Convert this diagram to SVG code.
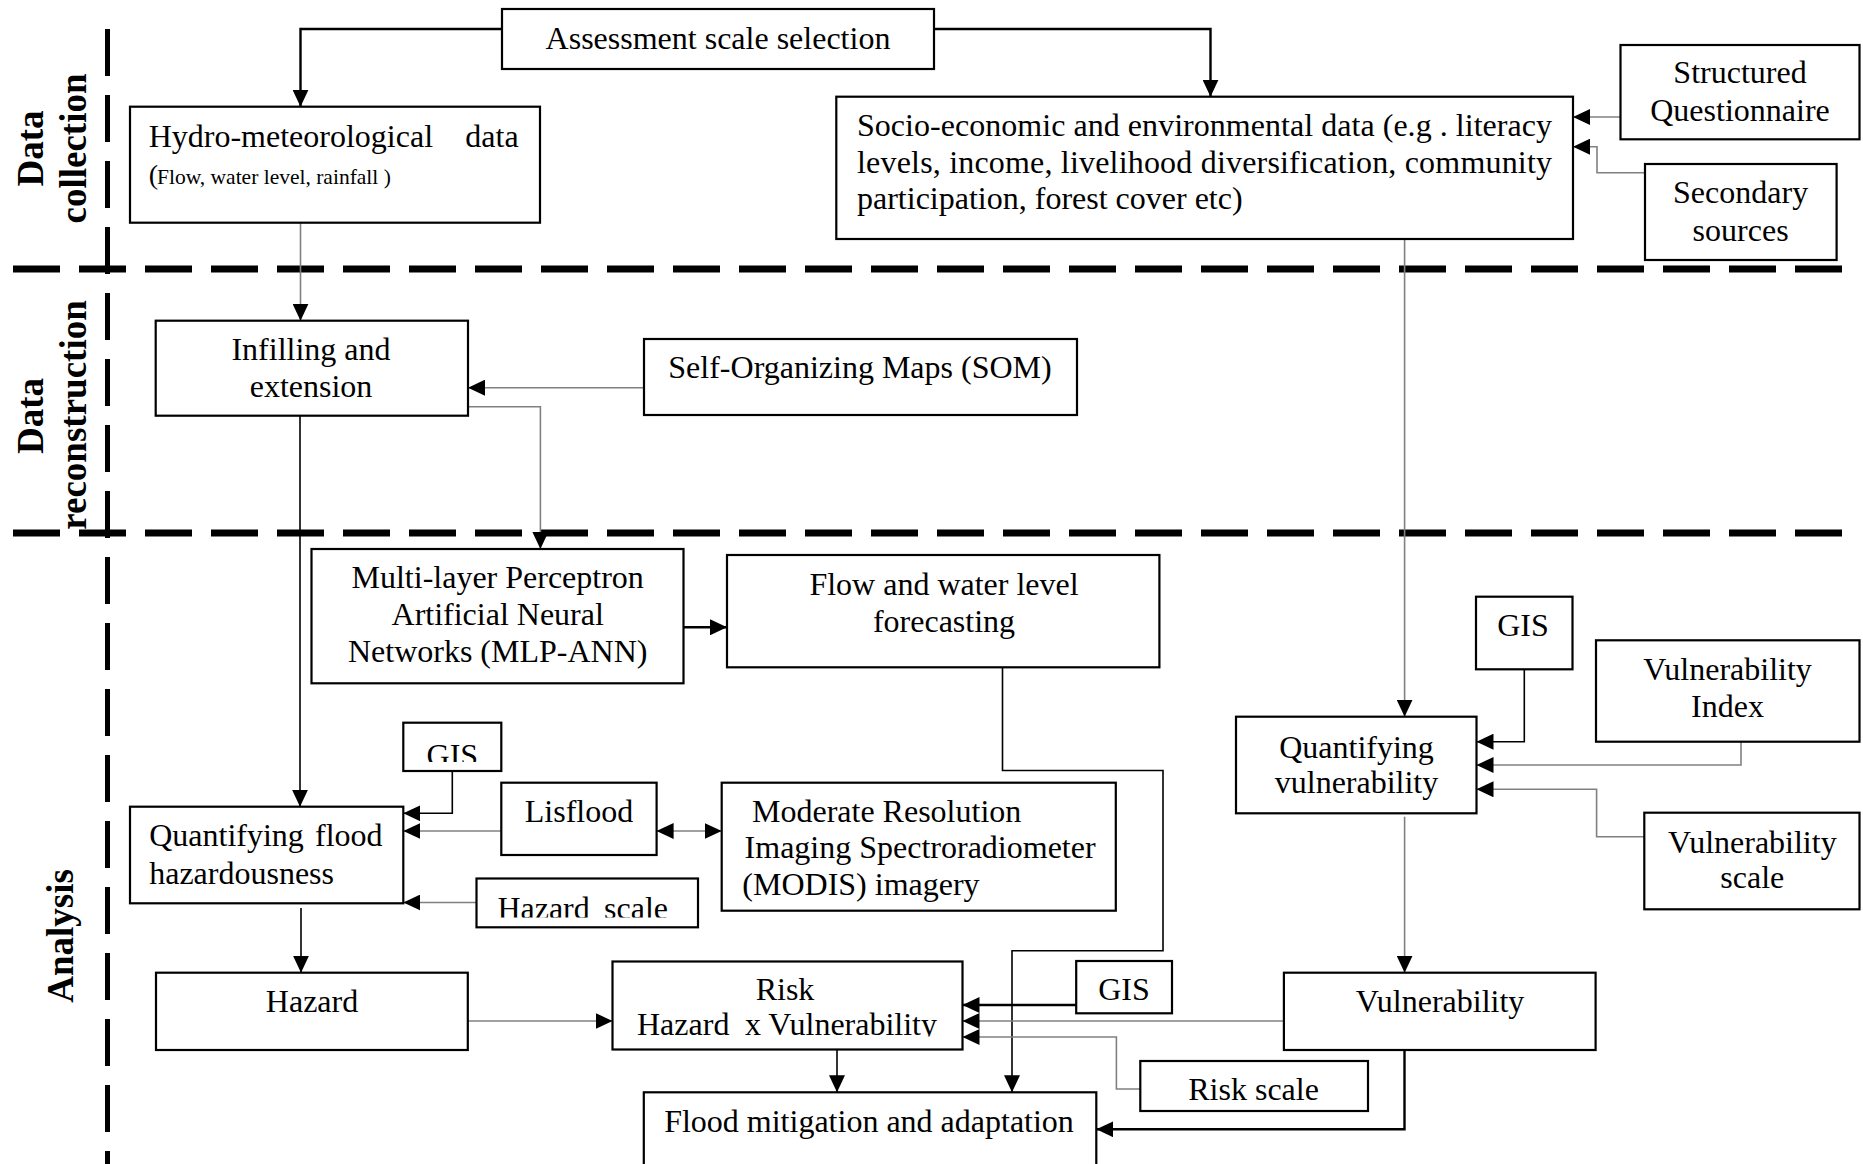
<svg xmlns="http://www.w3.org/2000/svg" width="1863" height="1164" viewBox="0 0 1863 1164">
  <style>
    .box { fill: #fff; stroke: #000; stroke-width: 2.2; }
    .t { font-family: "Liberation Serif", "Times New Roman", serif; font-size: 32px; fill: #000; }
    .m { text-anchor: middle; }
    .e { text-anchor: end; }
    .sec { font-family: "Liberation Serif", "Times New Roman", serif; font-size: 37px; font-weight: bold; fill: #000; text-anchor: middle; }
    .div { stroke: #000; fill: none; stroke-dasharray: 47 19; }
    .k { stroke: #000; stroke-width: 1.6; fill: none; marker-end: url(#ah); }
    .kb { stroke: #000; stroke-width: 2.4; fill: none; marker-end: url(#ah); }
    .g { stroke: #808080; stroke-width: 1.6; fill: none; marker-end: url(#ah); }
  </style>
  <defs>
    <marker id="ah" markerUnits="userSpaceOnUse" markerWidth="17" markerHeight="16" refX="17" refY="8" orient="auto-start-reverse">
      <path d="M0,0 L17,8 L0,16 Z" fill="#000"/>
    </marker>
    <clipPath id="clipGis1"><rect x="403" y="722" width="98" height="40"/></clipPath>
    <clipPath id="clipHazScale"><rect x="476" y="878" width="222" height="39.5"/></clipPath>
    <clipPath id="clipRisk"><rect x="612" y="961" width="350" height="75.5"/></clipPath>
  </defs>

  <rect width="1863" height="1164" fill="#fff"/>

  <!-- phase dividers -->
  <g id="dividers">
    <line class="div" x1="13" y1="269" x2="1842" y2="269" stroke-width="7"/>
    <line class="div" x1="13" y1="533" x2="1842" y2="533" stroke-width="7"/>
    <line class="div" x1="107.5" y1="29" x2="107.5" y2="1164" stroke-width="5"/>
  </g>

  <!-- phase labels -->
  <g id="phase-labels">
    <text class="sec" transform="translate(43,148.5) rotate(-90)">Data</text>
    <text class="sec" transform="translate(86,148.5) rotate(-90)">collection</text>
    <text class="sec" transform="translate(43,416) rotate(-90)">Data</text>
    <text class="sec" transform="translate(86,415) rotate(-90)">reconstruction</text>
    <text class="sec" transform="translate(73,936) rotate(-90)">Analysis</text>
  </g>

  <!-- connectors -->
  <g id="connectors">
    <path class="kb" d="M502,29 H300.5 V106.7"/>
    <path class="kb" d="M934,29 H1210.5 V96.7"/>
    <path class="g" d="M1620.5,117 H1573"/>
    <path class="g" d="M1645,172.7 H1597 V146.7 H1573"/>
    <path class="g" d="M300.5,223 V320.7"/>
    <path class="g" d="M644,387.7 H468"/>
    <path class="g" d="M468,406.7 H540.4 V549"/>
    <path class="k" d="M300,416 V806.7"/>
    <path class="kb" d="M683.5,627.3 H727"/>
    <path class="k" d="M1002.5,667.3 V770.5 H1163 V950.7 H1012 V1092.3"/>
    <path class="k" d="M452.3,771 V813.3 H403.3"/>
    <path class="g" d="M501.3,831 H403.3"/>
    <path class="g" d="M656.6,831 H721.7" marker-start="url(#ah)"/>
    <path class="g" d="M476.5,902.5 H403.3"/>
    <path class="k" d="M301,908 V972.7"/>
    <path class="g" d="M468,1021 H612.5"/>
    <path class="kb" d="M1076.2,1005 H962.5"/>
    <path class="g" d="M1283.9,1021 H962.5"/>
    <path class="g" d="M1140.3,1089 H1116.4 V1037 H962.5"/>
    <path class="k" d="M837,1049.5 V1092.3"/>
    <path class="kb" d="M1404.5,1050 V1129.3 H1096.3"/>
    <path class="g" d="M1404.6,239 V716.7"/>
    <path class="k" d="M1524.3,669.3 V741.7 H1476.5"/>
    <path class="g" d="M1741,741.7 V765 H1476.5"/>
    <path class="g" d="M1644.3,836.7 H1596.6 V789.3 H1476.5"/>
    <path class="g" d="M1404.6,816.7 V972.7"/>
  </g>

  <!-- data collection -->
  <g id="assessment-scale">
    <rect class="box" x="502" y="9" width="432" height="60"/>
    <text class="t m" x="718" y="49.3">Assessment scale selection</text>
  </g>
  <g id="hydro-data">
    <rect class="box" x="130" y="106.7" width="410" height="116"/>
    <text class="t" x="148.7" y="147.3">Hydro-meteorological</text>
    <text class="t e" x="518.6" y="147.3">data</text>
    <text class="t" x="148.7" y="184"><tspan font-size="28">(</tspan><tspan x="157" font-size="21.5">Flow, water level, rainfall )</tspan></text>
  </g>
  <g id="socio-data">
    <rect class="box" x="836.3" y="96.7" width="736.7" height="142.3"/>
    <text class="t" x="857" y="136" textLength="695" lengthAdjust="spacing">Socio-economic and environmental data (e.g . literacy</text>
    <text class="t" x="857" y="172.5" textLength="695" lengthAdjust="spacing">levels, income, livelihood diversification, community</text>
    <text class="t" x="857" y="209">participation, forest cover etc)</text>
  </g>
  <g id="questionnaire">
    <rect class="box" x="1620.5" y="45" width="239" height="94.3"/>
    <text class="t m" x="1740" y="83.3">Structured</text>
    <text class="t m" x="1740" y="120.5">Questionnaire</text>
  </g>
  <g id="secondary-sources">
    <rect class="box" x="1645" y="164" width="191.6" height="96"/>
    <text class="t m" x="1740.6" y="203">Secondary</text>
    <text class="t m" x="1740.6" y="240.5">sources</text>
  </g>

  <!-- data reconstruction -->
  <g id="infilling">
    <rect class="box" x="155.7" y="320.7" width="312.3" height="95"/>
    <text class="t m" x="311" y="360">Infilling and</text>
    <text class="t m" x="311" y="396.7">extension</text>
  </g>
  <g id="som">
    <rect class="box" x="644" y="339" width="433" height="76"/>
    <text class="t m" x="860" y="378.3">Self-Organizing Maps (SOM)</text>
  </g>

  <!-- analysis -->
  <g id="mlp-ann">
    <rect class="box" x="311.5" y="549" width="372" height="134.3"/>
    <text class="t m" x="497.7" y="588">Multi-layer Perceptron</text>
    <text class="t m" x="497.7" y="625">Artificial Neural</text>
    <text class="t m" x="497.7" y="662">Networks (MLP-ANN)</text>
  </g>
  <g id="forecasting">
    <rect class="box" x="727" y="555" width="432.4" height="112.3"/>
    <text class="t m" x="944" y="595">Flow and water level</text>
    <text class="t m" x="944" y="632">forecasting</text>
  </g>
  <g id="gis-hazard">
    <rect class="box" x="403.3" y="722.7" width="98" height="48.3"/>
    <text class="t m" x="452.3" y="766" clip-path="url(#clipGis1)">GIS</text>
  </g>
  <g id="lisflood">
    <rect class="box" x="501.3" y="782.7" width="155.3" height="72.3"/>
    <text class="t m" x="579" y="822">Lisflood</text>
  </g>
  <g id="modis">
    <rect class="box" x="721.7" y="782.7" width="394.1" height="128"/>
    <text class="t" x="752" y="822">Moderate Resolution</text>
    <text class="t" x="744.6" y="858.3">Imaging Spectroradiometer</text>
    <text class="t" x="742.3" y="895">(MODIS) imagery</text>
  </g>
  <g id="flood-hazardousness">
    <rect class="box" x="130" y="806.7" width="273.3" height="96.6"/>
    <text class="t" x="149.2" y="845.5">Quantifying</text>
    <text class="t e" x="382.6" y="845.5">flood</text>
    <text class="t" x="149.2" y="883.5">hazardousness</text>
  </g>
  <g id="hazard-scale">
    <rect class="box" x="476.5" y="878.5" width="221.5" height="48.8"/>
    <g clip-path="url(#clipHazScale)">
      <text class="t" x="497.4" y="919">Hazard</text>
      <text class="t e" x="668" y="919">scale</text>
    </g>
  </g>
  <g id="hazard">
    <rect class="box" x="156" y="972.7" width="311.8" height="77.3"/>
    <text class="t m" x="312" y="1011.7">Hazard</text>
  </g>
  <g id="risk">
    <rect class="box" x="612.5" y="961.5" width="350" height="88"/>
    <text class="t m" x="785" y="1000">Risk</text>
    <g clip-path="url(#clipRisk)">
      <text class="t" x="637" y="1035">Hazard</text>
      <text class="t e" x="937" y="1035">x Vulnerability</text>
    </g>
  </g>
  <g id="gis-risk">
    <rect class="box" x="1076.2" y="961" width="95.8" height="52.3"/>
    <text class="t m" x="1124" y="1000">GIS</text>
  </g>
  <g id="vulnerability">
    <rect class="box" x="1283.9" y="972.7" width="311.7" height="77.3"/>
    <text class="t m" x="1440" y="1011.7">Vulnerability</text>
  </g>
  <g id="risk-scale">
    <rect class="box" x="1140.3" y="1061" width="227.7" height="50"/>
    <text class="t m" x="1253.6" y="1100">Risk scale</text>
  </g>
  <g id="mitigation">
    <rect class="box" x="643.8" y="1092.3" width="452.5" height="100"/>
    <text class="t m" x="869" y="1131.7">Flood mitigation and adaptation</text>
  </g>
  <g id="gis-vulnerability">
    <rect class="box" x="1476" y="596.7" width="96.5" height="72.6"/>
    <text class="t m" x="1523" y="636">GIS</text>
  </g>
  <g id="vulnerability-index">
    <rect class="box" x="1596" y="640.3" width="263.5" height="101.4"/>
    <text class="t m" x="1727.5" y="680">Vulnerability</text>
    <text class="t m" x="1727.5" y="716.7">Index</text>
  </g>
  <g id="quantifying-vulnerability">
    <rect class="box" x="1236" y="716.7" width="240.5" height="96.6"/>
    <text class="t m" x="1356.5" y="758.3">Quantifying</text>
    <text class="t m" x="1356.5" y="793.3">vulnerability</text>
  </g>
  <g id="vulnerability-scale">
    <rect class="box" x="1644.3" y="812.7" width="215.2" height="96.6"/>
    <text class="t m" x="1752.3" y="853.3">Vulnerability</text>
    <text class="t m" x="1752.3" y="888.3">scale</text>
  </g>
</svg>
